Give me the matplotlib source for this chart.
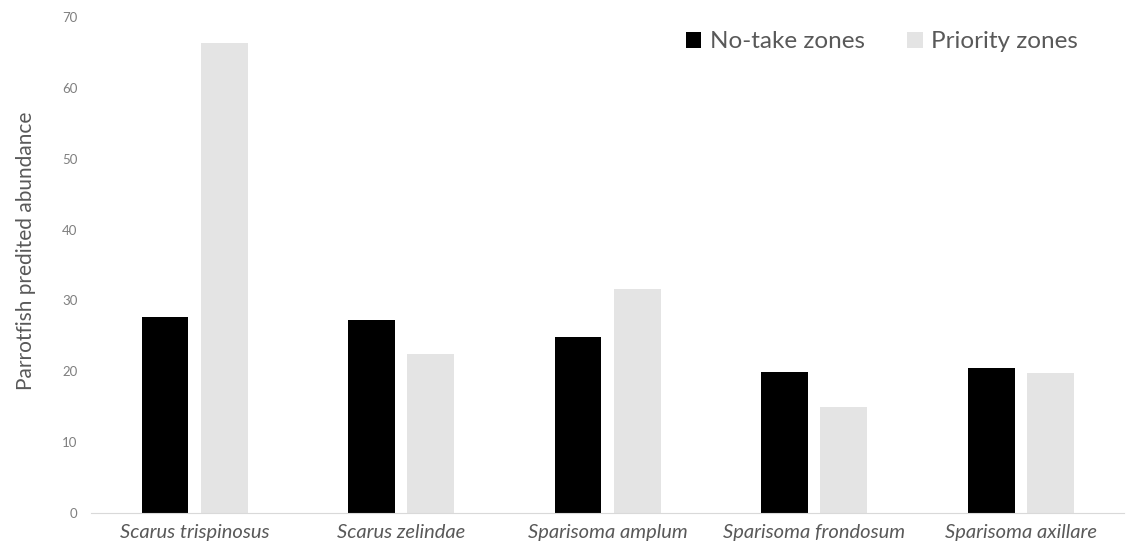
import numpy as np
import matplotlib.pyplot as plt

species = ['Scarus trispinosus', 'Scarus zelindae', 'Sparisoma amplum',
           'Sparisoma frondosum', 'Sparisoma axillare']
no_take = [27.7, 27.3, 24.9, 19.9, 20.4]
priority = [66.4, 22.4, 31.6, 14.9, 19.7]

plt.rcParams['font.family'] = ['Lato', 'DejaVu Sans']
txt = '#595959'

fig = plt.figure(figsize=(11.41, 5.51), dpi=100)
ax = fig.add_axes([0.080, 0.069, 0.905, 0.900])

x = np.arange(len(species))
w = 0.227
ax.bar(x - 0.143, no_take, w, color='black', label='No-take zones')
ax.bar(x + 0.143, priority, w, color='#e4e4e4', label='Priority zones')

ax.set_xlim(-0.5, len(species) - 0.5)
ax.set_ylim(0, 70)
ax.set_yticks(range(0, 71, 10))
ax.set_xticks(x)
ax.set_xticklabels(species, style='italic', fontsize=14.5, color=txt)
ax.tick_params(axis='y', length=0, labelsize=9.5, labelcolor='#7f7f7f', pad=10)
ax.tick_params(axis='x', length=0, pad=8)

for s in ['top', 'right', 'left']:
    ax.spines[s].set_visible(False)
ax.spines['bottom'].set_color('#d9d9d9')

ax.set_ylabel('Parrotfish predited abundance', fontsize=15, color=txt)
ax.yaxis.set_label_coords(-0.054, 0.528)

leg = ax.legend(loc='center right', bbox_to_anchor=(1078 / 1141, 1 - 42 / 551),
                bbox_transform=fig.transFigure, ncol=2, frameon=False,
                fontsize=17.5, handlelength=0.63, handleheight=0.63, handletextpad=0.35,
                columnspacing=1.75, borderpad=0, borderaxespad=0)
for t in leg.get_texts():
    t.set_color(txt)

fig.savefig('out.png', dpi=100)
